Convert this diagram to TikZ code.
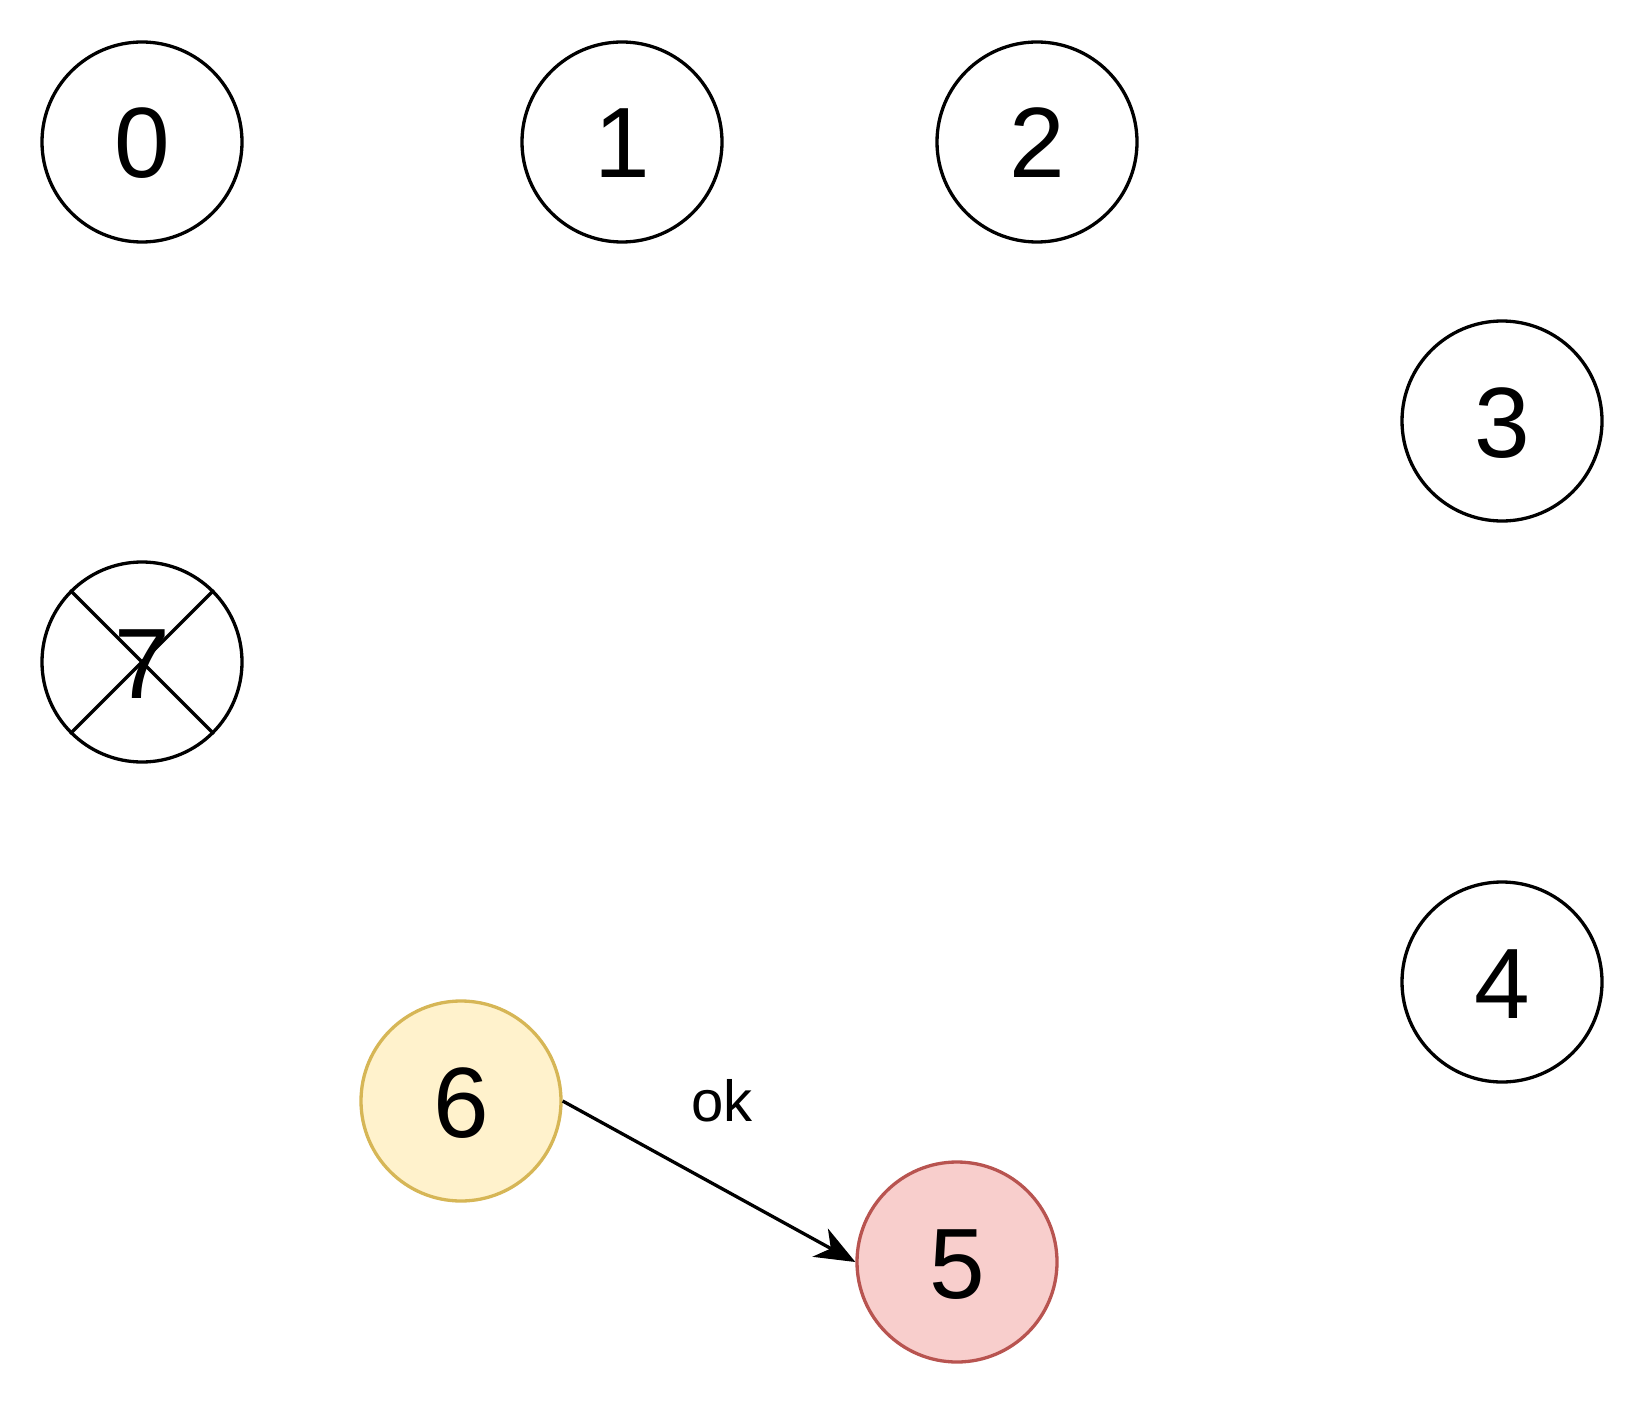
\documentclass[tikz,border=0pt]{standalone}
\usepackage{fontspec}
\setmainfont{Liberation Sans}
\usetikzlibrary{arrows.meta}
\definecolor{yfill}{HTML}{FFF2CC}
\definecolor{ydraw}{HTML}{D6B656}
\definecolor{rfill}{HTML}{F8CECC}
\definecolor{rdraw}{HTML}{B85450}
\begin{document}
\begin{tikzpicture}[x=1pt,y=-1pt,
  statenode/.style={circle, draw=black, line width=3.3pt, fill=white, inner sep=0pt,
    minimum size=200pt, font=\fontsize{100}{120}\selectfont, text depth=0pt, text height=0pt},
  edge/.style={line width=3.3pt, -{Stealth[length=40pt,width=32pt,inset=12pt]}},
  lbl/.style={font=\fontsize{58}{70}\selectfont, inner sep=0pt}]
\useasboundingbox (0,0) rectangle (1648,1404);
\node[statenode] (n0) at (142,142) {\raisebox{-36pt}{0}};
\node[statenode] (n1) at (622,142) {\raisebox{-36pt}{1}};
\node[statenode] (n2) at (1037,142) {\raisebox{-36pt}{2}};
\node[statenode] (n3) at (1502,421) {\raisebox{-36pt}{3}};
\node[statenode] (n4) at (1502,982) {\raisebox{-36pt}{4}};
\node[statenode] (n7) at (142,662) {\raisebox{-36pt}{7}};
\node[statenode, fill=yfill, draw=ydraw] (n6) at (461,1101) {\raisebox{-36pt}{6}};
\node[statenode, fill=rfill, draw=rdraw] (n5) at (957,1262) {\raisebox{-36pt}{5}};
\draw[line width=3.3pt] (n7.45) -- (n7.225);
\draw[line width=3.3pt] (n7.135) -- (n7.-45);
\draw[edge] (n6.east) -- (n5.west);
\node[lbl] (ok) at (722,1101) {ok};
\end{tikzpicture}
\end{document}
